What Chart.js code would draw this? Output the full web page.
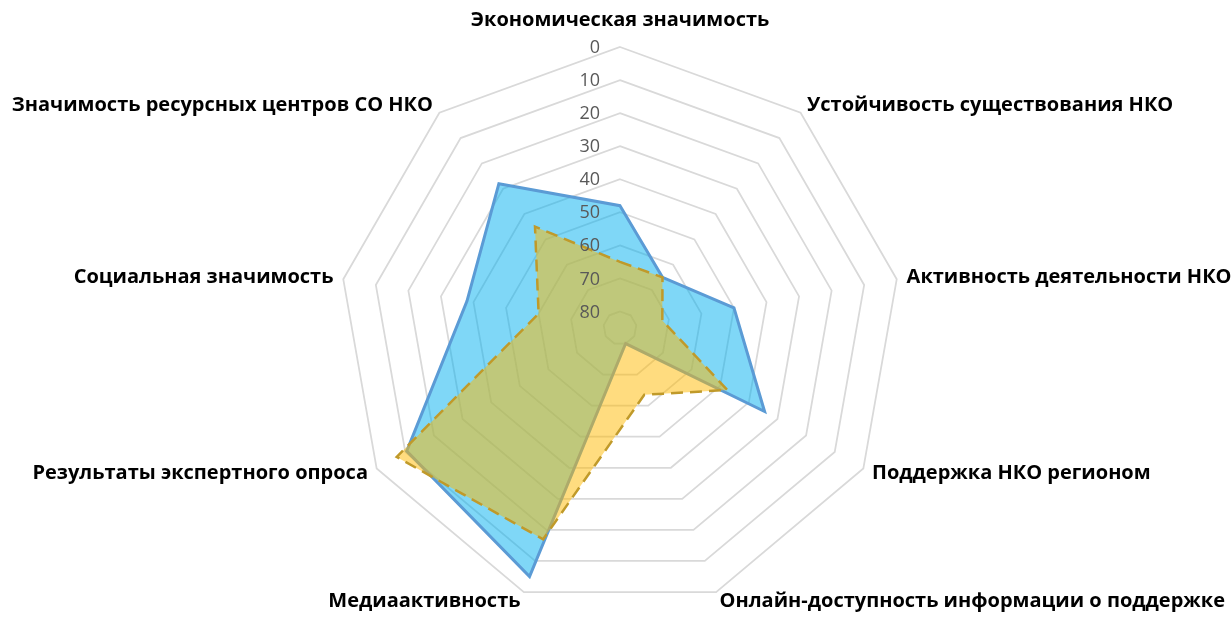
<!DOCTYPE html>
<html>
<head>
<meta charset="utf-8">
<script src="https://cdn.jsdelivr.net/npm/chart.js@4.4.1/dist/chart.umd.min.js"></script>
<style>
  html, body { margin:0; padding:0; background:#fff; overflow:hidden; }
  #chart { display:block; }
</style>
</head>
<body>
<canvas id="chart" width="1231" height="618"></canvas>
<script>
/* ---- data ---- */
const categories = [
  'Экономическая значимость',
  'Устойчивость существования НКО',
  'Активность деятельности НКО',
  'Поддержка НКО регионом',
  'Онлайн-доступность информации о поддержке',
  'Медиаактивность',
  'Результаты экспертного опроса',
  'Социальная значимость',
  'Значимость ресурсных центров СО НКО'
];
const blueValues   = [48, 65, 50, 34.5, 80, 5, 10.5, 38, 28];
const yellowValues = [65, 65, 72, 47.5, 63.5, 17, 7, 60, 45];
const tickValues   = [0, 10, 20, 30, 40, 50, 60, 70, 80];
const scaleMax     = 85;

/* ---- axis text (ticks left of the top spoke, labels around) ---- */
const axisText = {
  id: 'axisText',
  afterDraw(chart) {
    const r = chart.scales.r, ctx = chart.ctx;
    ctx.save();
    ctx.textBaseline = 'middle';

    ctx.font = '18px "Open Sans"';
    ctx.fillStyle = '#595959';
    ctx.textAlign = 'right';
    tickValues.forEach(v => {
      ctx.fillText(String(v), r.xCenter - 20, r.yCenter - r.getDistanceFromCenterForValue(v) + 1);
    });

    ctx.font = 'bold 20px "Open Sans"';
    ctx.fillStyle = '#000';
    categories.forEach((txt, i) => {
      const a = r.getIndexAngle(i);
      const p = r.getPointPosition(i, r.drawingArea + (i === 0 ? 27 : 10));
      const s = Math.sin(a);
      ctx.textAlign = Math.abs(s) < 0.01 ? 'center' : (s > 0 ? 'left' : 'right');
      ctx.fillText(txt, p.x, p.y);
    });
    ctx.restore();
  }
};

new Chart(document.getElementById('chart'), {
  type: 'radar',
  data: {
    labels: categories,
    datasets: [
      {
        label: 'Ряд 1',
        data: blueValues,
        order: 1,
        fill: 'start',
        backgroundColor: 'rgba(0,176,240,0.5)',
        borderColor: '#5B9BD5',
        borderWidth: 3,
        pointRadius: 0,
        tension: 0
      },
      {
        label: 'Ряд 2',
        data: yellowValues,
        order: 0,
        fill: 'start',
        backgroundColor: 'rgba(255,185,0,0.5)',
        borderColor: '#C09A2A',
        borderWidth: 2.5,
        borderDash: [12, 7],
        pointRadius: 0,
        tension: 0
      }
    ]
  },
  options: {
    responsive: false,
    animation: false,
    layout: { padding: { left: 9, right: 0, top: 47, bottom: 8 } },
    plugins: { legend: { display: false }, tooltip: { enabled: false } },
    scales: {
      r: {
        min: 0,
        max: scaleMax,
        reverse: true,
        // ring for 0 sits at index 0, which Chart.js never strokes; add it twice
        afterBuildTicks: s => { s.ticks = [0].concat(tickValues).map(v => ({ value: v })); },
        ticks: { display: false },
        angleLines: { display: false },
        grid: { color: '#d9d9d9', lineWidth: 1.75 },
        pointLabels: { display: false }
      }
    }
  },
  plugins: [axisText]
});
</script>
</body>
</html>
